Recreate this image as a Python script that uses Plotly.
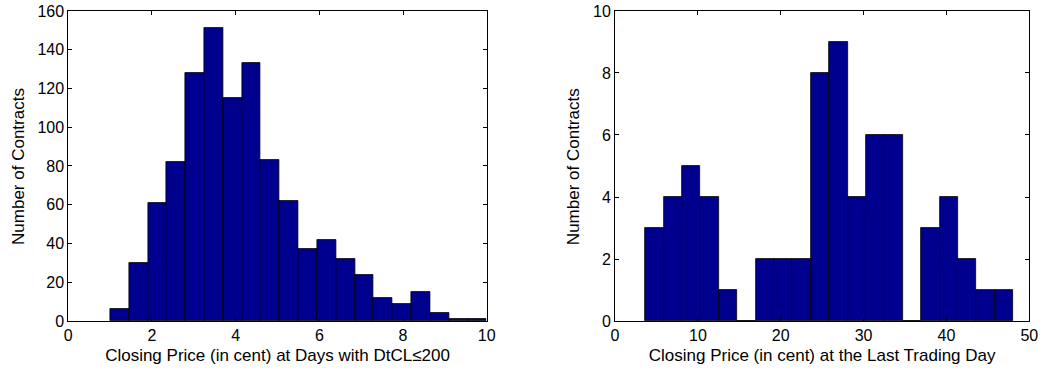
import plotly.graph_objects as go

# Left histogram: closing price at days with DtCL<=200
left_bin_start = 1.0
left_bin_width = 0.45
left_counts = [6, 30, 61, 82, 128, 151, 115, 133, 83, 62, 37, 42, 32, 24, 12, 9, 15, 4, 1, 1]

# Right histogram: closing price at the last trading day
right_bin_start = 3.66
right_bin_width = 2.22
right_counts = [3, 4, 5, 4, 1, 0, 2, 2, 2, 8, 9, 4, 6, 6, 0, 3, 4, 2, 1, 1]

left_xticks = [0, 2, 4, 6, 8, 10]
left_yticks = [0, 20, 40, 60, 80, 100, 120, 140, 160]
right_xticks = [0, 10, 20, 30, 40, 50]
right_yticks = [0, 2, 4, 6, 8, 10]

left_title_x = "Closing Price (in cent) at Days with DtCL≤200"
right_title_x = "Closing Price (in cent) at the Last Trading Day"
title_y = "Number of Contracts"

BAR = "#00008F"
FONT = "Liberation Sans, Arial, sans-serif"
FS = 16
FT = 17

def centers(start, width, n):
    return [start + width * (i + 0.5) for i in range(n)]

fig = go.Figure()
fig.add_trace(go.Bar(
    x=centers(left_bin_start, left_bin_width, len(left_counts)),
    y=left_counts, width=left_bin_width,
    marker=dict(color=BAR, line=dict(color="black", width=0.8)),
    xaxis="x", yaxis="y", showlegend=False, hoverinfo="x+y"))
fig.add_trace(go.Bar(
    x=centers(right_bin_start, right_bin_width, len(right_counts)),
    y=right_counts, width=right_bin_width,
    marker=dict(color=BAR, line=dict(color="black", width=0.8)),
    xaxis="x2", yaxis="y2", showlegend=False, hoverinfo="x+y"))

ax_common = dict(showline=True, linecolor="black", linewidth=1, mirror="ticks",
                 ticks="inside", ticklen=4, tickcolor="black", tickwidth=1,
                 showgrid=False, zeroline=False, automargin=False,
                 tickfont=dict(family=FONT, size=FS, color="black"))

fig.update_layout(
    width=1046, height=374,
    margin=dict(l=0, r=0, t=0, b=0, autoexpand=False),
    paper_bgcolor="white", plot_bgcolor="white",
    bargap=0,
    font=dict(family=FONT, size=FS, color="black"),
    xaxis=dict(domain=[0.0653, 0.4653], range=[0, 10], tickvals=left_xticks,
               anchor="y", title=dict(text=left_title_x, standoff=5,
                                      font=dict(family=FONT, size=FT)), **ax_common),
    yaxis=dict(domain=[0.1417, 0.9706], range=[0, 160], tickvals=left_yticks,
               anchor="x", **ax_common),
    xaxis2=dict(domain=[0.588, 0.984], range=[0, 50], tickvals=right_xticks,
                anchor="y2", title=dict(text=right_title_x, standoff=5,
                                        font=dict(family=FONT, size=FT)), **ax_common),
    yaxis2=dict(domain=[0.1417, 0.9706], range=[0, 10], tickvals=right_yticks,
                anchor="x2", **ax_common),
)

for xpos in (18.5 / 1046, 573.7 / 1046):
    fig.add_annotation(text=title_y, xref="paper", yref="paper", x=xpos, y=0.555,
                       xanchor="center", yanchor="middle", textangle=-90,
                       showarrow=False, font=dict(family=FONT, size=FT, color="black"))

fig.write_html("out.html")
